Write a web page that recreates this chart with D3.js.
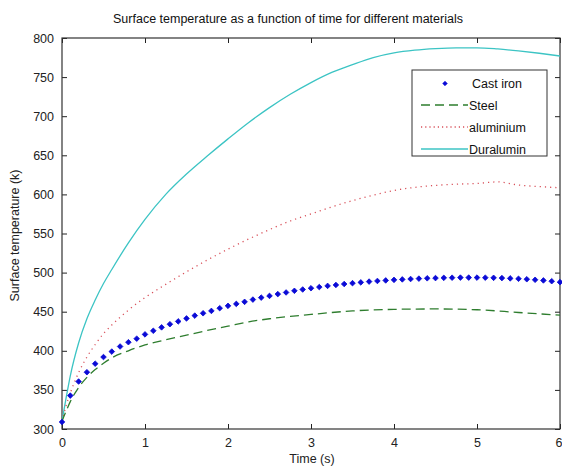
<!DOCTYPE html>
<html>
<head>
<meta charset="utf-8">
<script src="https://cdn.jsdelivr.net/npm/d3@7"></script>
<style>
  html, body { margin: 0; padding: 0; background: #fff; }
  svg { display: block; font-family: "Liberation Sans", Arial, sans-serif; }
</style>
</head>
<body>
<svg id="chart" width="562" height="468"></svg>
<script>
// ---- data ----
const title = "Surface temperature as a function of time for different materials";
const xLabel = "Time (s)";
const yLabel = "Surface temperature (k)";
const xTicks = [0, 1, 2, 3, 4, 5, 6];
const yTicks = [300, 350, 400, 450, 500, 550, 600, 650, 700, 750, 800];

const castIronTime = d3.range(0, 61).map(i => i / 10);
const castIronTemp = [309, 342.7, 360.7, 372.6, 383.5, 392, 399, 405.5, 411, 415.5,
  421, 425.6, 430, 434, 437.6, 441.4, 445, 448, 451, 454.5,
  457.5, 460, 462.6, 465.5, 468, 470.2, 472.5, 474.6, 476.7, 478.4,
  480, 481.5, 483, 484.2, 485.4, 486.5, 487.5, 488.5, 489.3, 490,
  490.7, 491.3, 491.8, 492.3, 492.7, 493, 493.3, 493.5, 493.6, 493.6,
  493.6, 493.5, 493.3, 493, 492.6, 492.1, 491.5, 490.8, 490, 489, 487.8];

const steelTime = [0, 0.05, 0.1, 0.2, 0.3, 0.4, 0.5, 0.6, 0.8, 1.0, 1.25, 1.5, 1.75, 2.0, 2.25, 2.5, 2.75, 3.0, 3.5, 4.0, 4.5, 5.0, 5.5, 6.0];
const steelTemp = [310, 323, 335, 353, 366, 376, 384, 391, 400, 407.5, 414, 420, 426, 431.5, 437, 441, 444, 446.5, 451, 453, 453.5, 452.5, 449, 445.5];

const aluTime = [0, 0.05, 0.1, 0.2, 0.3, 0.4, 0.5, 0.6, 0.8, 1.0, 1.25, 1.5, 1.75, 2.0, 2.25, 2.5, 2.75, 3.0, 3.25, 3.5, 3.75, 4.0, 4.25, 4.5, 4.75, 5.0, 5.25, 5.5, 5.75, 6.0];
const aluTemp = [310, 330, 346, 372, 392, 408, 422, 433, 452, 468, 485, 501, 516, 530, 543, 555, 566, 575, 584, 592, 599, 605, 609, 611.5, 613, 614, 616, 612, 610, 608.5];

const duraTime = [0, 0.05, 0.1, 0.2, 0.3, 0.4, 0.5, 0.6, 0.8, 1.0, 1.25, 1.5, 1.75, 2.0, 2.25, 2.5, 2.75, 3.0, 3.25, 3.5, 3.75, 4.0, 4.25, 4.5, 4.75, 5.0, 5.25, 5.5, 5.75, 6.0];
const duraTemp = [310, 340, 368, 410, 441, 465, 486, 504, 538, 568, 600, 626, 649, 671, 692, 711, 728, 743, 756, 766, 775, 781, 784.5, 786.5, 787.5, 787.5, 786, 783.5, 780.5, 777];

const legendLabels = ["Cast iron", "Steel", "aluminium", "Duralumin"];

// ---- layout ----
const svg = d3.select("#chart");
const mLeft = 62, mRight = 560, mTop = 38, mBottom = 429;
const x = d3.scaleLinear().domain([0, 6]).range([mLeft, mRight]);
const y = d3.scaleLinear().domain([300, 800]).range([mBottom, mTop]);

const colCast = "#0a0ad6", colSteel = "#2e7d2e", colAlu = "#d8505a", colDura = "#3cc4c4";

svg.append("rect").attr("width", 562).attr("height", 468).attr("fill", "#fff");

// title
svg.append("text").attr("x", 288).attr("y", 23)
  .attr("text-anchor", "middle").attr("font-size", 12.5).attr("fill", "#111").text(title);

// axes (ticks inside)
const fmt = d3.format("d");
const gx = svg.append("g").attr("transform", `translate(0,${mBottom})`)
  .call(d3.axisBottom(x).tickValues(xTicks).tickFormat(fmt).tickSizeInner(-5).tickSizeOuter(0).tickPadding(9));
const gxTop = svg.append("g").attr("transform", `translate(0,${mTop})`)
  .call(d3.axisTop(x).tickValues(xTicks).tickFormat("").tickSizeInner(-5).tickSizeOuter(0));
const gy = svg.append("g").attr("transform", `translate(${mLeft},0)`)
  .call(d3.axisLeft(y).tickValues(yTicks).tickFormat(fmt).tickSizeInner(-5).tickSizeOuter(0).tickPadding(8));
const gyR = svg.append("g").attr("transform", `translate(${mRight},0)`)
  .call(d3.axisRight(y).tickValues(yTicks).tickFormat("").tickSizeInner(-5).tickSizeOuter(0));
[gx, gxTop, gy, gyR].forEach(g => {
  g.select(".domain").remove();
  g.selectAll("line").attr("stroke", "#222");
  g.selectAll("text").attr("font-size", 12.5).attr("fill", "#222").attr("font-family", "'Liberation Sans', Arial, sans-serif");
});
gx.selectAll(".tick text").filter(d => d === 6).attr("dx", -1.5);

// box
svg.append("rect").attr("x", mLeft).attr("y", mTop).attr("width", mRight - mLeft).attr("height", mBottom - mTop)
  .attr("fill", "none").attr("stroke", "#333").attr("stroke-width", 1.2);

// axis labels
svg.append("text").attr("x", 312).attr("y", 463).attr("text-anchor", "middle")
  .attr("font-size", 12.5).attr("fill", "#222").text(xLabel);
svg.append("text").attr("transform", `translate(19,${(mTop + mBottom) / 2 + 2}) rotate(-90)`)
  .attr("text-anchor", "middle").attr("font-size", 12.5).attr("fill", "#222").text(yLabel);

// lines
svg.append("clipPath").attr("id", "clip").append("rect")
  .attr("x", mLeft).attr("y", mTop).attr("width", mRight - mLeft).attr("height", mBottom - mTop);
const plot = svg.append("g").attr("clip-path", "url(#clip)");
const line = d3.line().x(d => x(d[0])).y(d => y(d[1])).curve(d3.curveMonotoneX);

plot.append("path").datum(d3.zip(duraTime, duraTemp)).attr("d", line)
  .attr("fill", "none").attr("stroke", colDura).attr("stroke-width", 1.3);
plot.append("path").datum(d3.zip(aluTime, aluTemp)).attr("d", line)
  .attr("fill", "none").attr("stroke", colAlu).attr("stroke-width", 1.3).attr("stroke-dasharray", "1.2,4");
plot.append("path").datum(d3.zip(steelTime, steelTemp)).attr("d", line)
  .attr("fill", "none").attr("stroke", colSteel).attr("stroke-width", 1.3).attr("stroke-dasharray", "9,5");

const sym = d3.symbol().type(d3.symbolDiamond2).size(20);
svg.append("g").selectAll("path").data(d3.zip(castIronTime, castIronTemp)).join("path")
  .attr("d", sym).attr("transform", d => `translate(${x(d[0])},${y(d[1])})`)
  .attr("fill", colCast).attr("stroke", colCast).attr("stroke-width", 0.8);

// legend
const lg = svg.append("g");
lg.append("rect").attr("x", 412).attr("y", 70).attr("width", 135).attr("height", 86)
  .attr("fill", "#fff").attr("stroke", "#333").attr("stroke-width", 1);
const rows = [83.5, 105, 127, 149];
lg.append("path").attr("d", d3.symbol().type(d3.symbolDiamond2).size(14)).attr("transform", `translate(445,${rows[0]})`)
  .attr("fill", colCast).attr("stroke", colCast).attr("stroke-width", 0.6);
lg.append("line").attr("x1", 421).attr("x2", 468).attr("y1", rows[1]).attr("y2", rows[1])
  .attr("stroke", colSteel).attr("stroke-width", 1.3).attr("stroke-dasharray", "9,5");
lg.append("line").attr("x1", 421).attr("x2", 468).attr("y1", rows[2]).attr("y2", rows[2])
  .attr("stroke", colAlu).attr("stroke-width", 1.3).attr("stroke-dasharray", "1.2,3");
lg.append("line").attr("x1", 421).attr("x2", 468).attr("y1", rows[3]).attr("y2", rows[3])
  .attr("stroke", colDura).attr("stroke-width", 1.3);
lg.selectAll("text.lab").data(legendLabels).join("text").attr("class", "lab")
  .attr("x", (d, i) => i === 0 ? 472 : 469).attr("y", (d, i) => rows[i] + 4.5)
  .attr("font-size", 12.5).attr("fill", "#111").text(d => d);
</script>
</body>
</html>
